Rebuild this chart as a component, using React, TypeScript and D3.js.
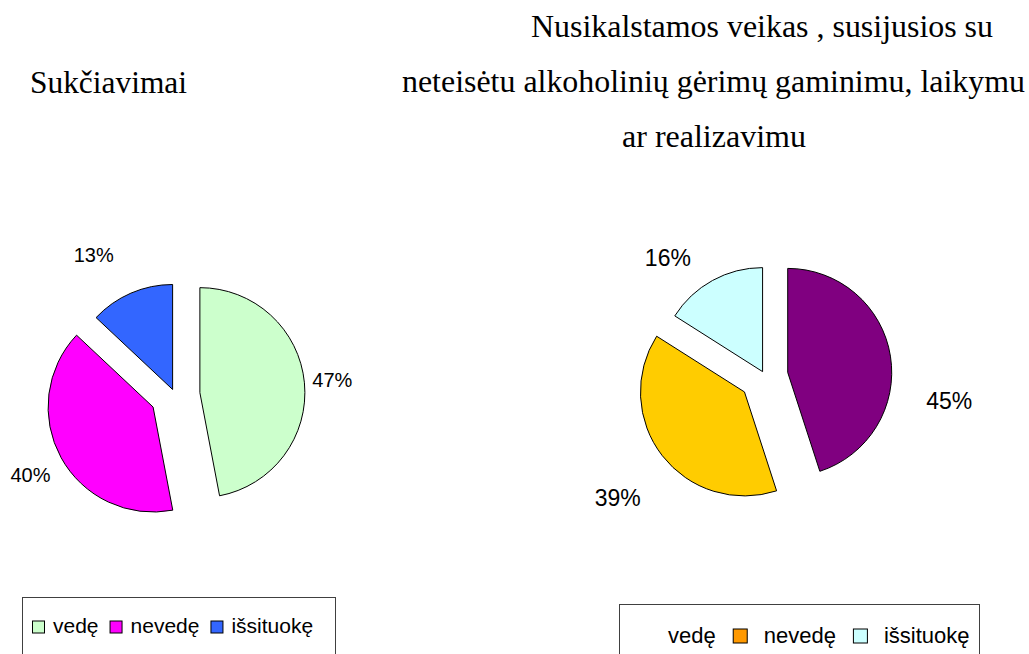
import * as d3 from "d3"
import { useEffect, useRef } from "react"

// kategorijos (šeimyninė padėtis)
const categories = ["vedę", "nevedę", "išsituokę"]

// Sukčiavimai
const fraudTitle = ["Sukčiavimai"]
const fraudValues = [47, 40, 13]
const fraudColors = ["#CCFFCC", "#FF00FF", "#3366FF"]
const fraudLegendColors = ["#CCFFCC", "#FF00FF", "#3366FF"]

// alkoholis
const alcoholTitle = [
  "Nusikalstamos veikas , susijusios su",
  "neteisėtu alkoholinių gėrimų gaminimu, laikymu",
  "ar realizavimu",
]
const alcoholValues = [45, 39, 16]
const alcoholColors = ["#800080", "#FFCC00", "#CCFFFF"]
const alcoholLegendColors = [null, "#FF9900", "#CCFFFF"]

const W = 1029
const H = 654

function drawPie(g, cfg) {
  const pie = d3.pie().sort(null).value(d => d)
  const arc = d3.arc().innerRadius(0).outerRadius(cfg.r)
  const slices = pie(cfg.values)

  const root = g.append("g").attr("transform", `translate(${cfg.cx},${cfg.cy})`)

  slices.forEach((s, i) => {
    const mid = (s.startAngle + s.endAngle) / 2
    const ox = cfg.explode[i] * Math.sin(mid)
    const oy = -cfg.explode[i] * Math.cos(mid)
    root.append("path")
      .attr("d", arc(s))
      .attr("transform", `translate(${ox},${oy})`)
      .attr("fill", cfg.colors[i])
      .attr("stroke", "#000")
      .attr("stroke-width", 1)
      .attr("stroke-linejoin", "round")

    const la = mid + (cfg.labelTurn[i] * Math.PI) / 180
    root.append("text")
      .attr("x", ox + cfg.labelDist[i] * Math.sin(la))
      .attr("y", oy - cfg.labelDist[i] * Math.cos(la))
      .attr("dy", "0.36em")
      .attr("text-anchor", "middle")
      .attr("font-family", "'Liberation Sans', Arial, sans-serif")
      .attr("font-size", cfg.labelSize)
      .attr("fill", "#000")
      .text(Math.round((s.value / d3.sum(cfg.values)) * 100) + "%")
  })
}

function drawLegend(g, cfg) {
  g.append("rect")
    .attr("x", cfg.x + 0.5)
    .attr("y", cfg.y + 0.5)
    .attr("width", cfg.w)
    .attr("height", 90)
    .attr("fill", "#fff")
    .attr("stroke", "#404040")
    .attr("stroke-width", 1)

  let x = cfg.startX
  categories.forEach((c, i) => {
    const col = cfg.colors[i]
    if (col) {
      g.append("rect")
        .attr("x", x + 0.5)
        .attr("y", cfg.baseline - cfg.sw + 0.5)
        .attr("width", cfg.sw)
        .attr("height", cfg.sw)
        .attr("fill", col)
        .attr("stroke", "#000")
        .attr("stroke-width", 1)
      x += cfg.sw + cfg.gapAfterSwatch
    }
    const t = g.append("text")
      .attr("x", x)
      .attr("y", cfg.baseline)
      .attr("font-family", "'Liberation Sans', Arial, sans-serif")
      .attr("font-size", cfg.fontSize)
      .attr("fill", "#000")
      .text(c)
    x += t.node().getComputedTextLength() + cfg.gapAfterText
  })
}

export default function App() {
  const ref = useRef(null)

  useEffect(() => {
    const svg = d3.select(ref.current)
    svg.selectAll("*").remove()

    const serif = "'Liberation Serif', 'Times New Roman', serif"

    // pavadinimai
    svg.append("text")
      .attr("x", 30).attr("y", 93)
      .attr("font-family", serif).attr("font-size", 32)
      .attr("textLength", 157).attr("lengthAdjust", "spacingAndGlyphs")
      .text(fraudTitle[0])

    const titleX = [531, 402, 622]
    const titleW = [462, 623, 184]
    alcoholTitle.forEach((line, i) => {
      svg.append("text")
        .attr("x", titleX[i]).attr("y", 37 + i * 55)
        .attr("font-family", serif).attr("font-size", 32)
        .attr("textLength", titleW[i]).attr("lengthAdjust", "spacingAndGlyphs")
        .text(line)
    })

    drawPie(svg, {
      cx: 175, cy: 395, r: 105,
      values: fraudValues, colors: fraudColors,
      explode: [25, 25, 6],
      labelDist: [133, 140, 156], labelTurn: [0, 0, -7], labelSize: 20,
    })

    drawPie(svg, {
      cx: 765, cy: 376, r: 104,
      values: alcoholValues, colors: alcoholColors,
      explode: [23, 26, 5],
      labelDist: [164, 165, 148], labelTurn: [19, -2, -11], labelSize: 23,
    })

    drawLegend(svg, {
      x: 22, y: 597, w: 313, startX: 32, baseline: 632.5,
      sw: 12, gapAfterSwatch: 9, gapAfterText: 11, fontSize: 21,
      colors: fraudLegendColors,
    })

    drawLegend(svg, {
      x: 619, y: 604, w: 360, startX: 668, baseline: 642.5,
      sw: 14, gapAfterSwatch: 17, gapAfterText: 17, fontSize: 22,
      colors: alcoholLegendColors,
    })
  }, [])

  return (
    <svg
      ref={ref}
      width={W}
      height={H}
      style={{ position: "absolute", left: 0, top: 0, background: "#fff" }}
    />
  )
}
